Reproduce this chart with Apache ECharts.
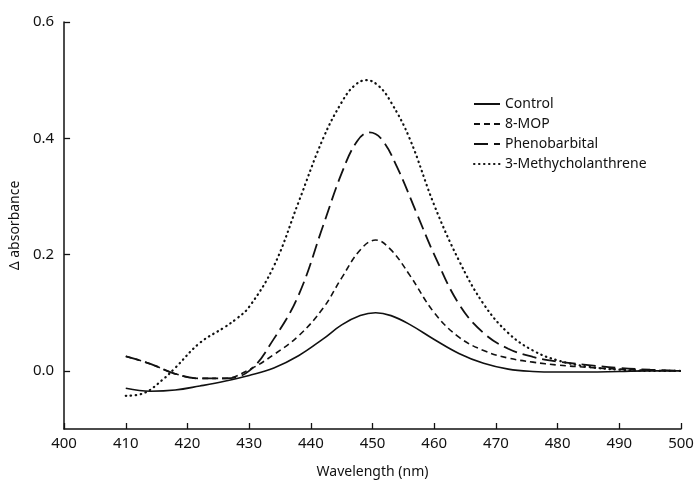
<!DOCTYPE html>
<html><head><meta charset="utf-8">
<script src="https://cdn.jsdelivr.net/npm/echarts@6/dist/echarts.min.js"></script>
<style>html,body{margin:0;padding:0;background:#fff}#c{width:698px;height:484px}</style>
</head><body><div id="c"></div>
<script>
const seriesNames = ['Control', '8-MOP', 'Phenobarbital', '3-Methycholanthrene'];
const xTicks = [400, 410, 420, 430, 440, 450, 460, 470, 480, 490, 500];
const yTicks = [0, 0.2, 0.4, 0.6];

const controlX = [410,414,418,422,426,430,434,438,442,445,448,450.5,453,456,460,464,468,472,476,480,485,490,495,500];
const controlY = [-0.030,-0.035,-0.033,-0.026,-0.018,-0.008,0.005,0.026,0.055,0.079,0.095,0.100,0.095,0.080,0.054,0.030,0.013,0.003,-0.001,-0.002,-0.002,-0.001,0.000,0.000];

const mopX = [410,414,418,422,426,430,434,438,442,445,448,450.5,453,456,460,464,468,472,476,480,485,490,495,500];
const mopY = [0.025,0.012,-0.005,-0.013,-0.013,0.002,0.028,0.060,0.108,0.160,0.208,0.225,0.208,0.165,0.100,0.058,0.035,0.022,0.015,0.010,0.006,0.003,0.001,0.000];

const phenoX = [410,414,418,422,426,430,434,438,442,445,447.5,449.5,451.5,454,457,460,464,468,472,476,480,485,490,495,500];
const phenoY = [0.025,0.012,-0.005,-0.013,-0.013,0.000,0.055,0.130,0.250,0.340,0.395,0.410,0.398,0.350,0.275,0.200,0.115,0.065,0.038,0.024,0.016,0.010,0.005,0.002,0.000];

const mcX = [410,413,416,418,422,426,428,430,434,438,442,445,447,449,451,453,456,460,464,468,472,476,480,485,490,495,500];
const mcY = [-0.043,-0.038,-0.015,0.005,0.048,0.075,0.090,0.110,0.180,0.290,0.400,0.462,0.490,0.500,0.490,0.462,0.400,0.285,0.190,0.115,0.065,0.035,0.018,0.007,0.002,0.000,0.000];

const zip = (xs, ys) => xs.map((x, i) => [x, ys[i]]);
const font = 'Noto Sans';
const lineStyles = [
  {color:'#111', width:1.6, type:'solid'},
  {color:'#111', width:1.6, type:[6,4]},
  {color:'#111', width:1.8, type:[14,6]},
  {color:'#111', width:2.2, type:[0.5,4.5], cap:'round'}
];
const datasets = [zip(controlX,controlY), zip(mopX,mopY), zip(phenoX,phenoY), zip(mcX,mcY)];

const chart = echarts.init(document.getElementById('c'), null, {renderer:'canvas'});
chart.setOption({
  animation:false,
  backgroundColor:'#fff',
  grid:{left:62, right:17, top:22, bottom:42, containLabel:false},
  legend:{
    orient:'vertical', left:468, top:92, itemGap:6, itemWidth:26, itemHeight:14,
    itemStyle:{color:'transparent', borderColor:'transparent', borderWidth:0, opacity:0},
    textStyle:{fontFamily:font, fontSize:14, color:'#111'},
    data:seriesNames
  },
  xAxis:{
    type:'value', min:400, max:500, interval:10,
    name:'Wavelength (nm)', nameLocation:'middle', nameGap:36,
    nameTextStyle:{fontFamily:font, fontSize:14, color:'#111'},
    axisLine:{show:true, onZero:false, lineStyle:{color:'#111', width:1.5}},
    axisTick:{show:true, inside:true, length:6, lineStyle:{color:'#111', width:1.3}},
    axisLabel:{fontFamily:font, fontSize:15, color:'#111', margin:7},
    splitLine:{show:false}
  },
  yAxis:{
    type:'value', min:-0.1, max:0.6,
    name:'\u0394 absorbance', nameLocation:'middle', nameGap:40,
    nameTextStyle:{fontFamily:font, fontSize:14, color:'#111'},
    axisLine:{show:true, onZero:false, lineStyle:{color:'#111', width:1.5}},
    axisTick:{show:true, inside:true, length:6, customValues:yTicks, lineStyle:{color:'#111', width:1.3}},
    axisLabel:{fontFamily:font, fontSize:15, color:'#111', margin:10, customValues:yTicks,
      formatter:v => v.toFixed(1)},
    splitLine:{show:false}
  },
  series: seriesNames.map((n,i) => ({
    name:n, type:'line', data:datasets[i], smooth:0.4, showSymbol:false, symbol:'none',
    lineStyle:lineStyles[i], itemStyle:{color:'#111'}
  }))
});
</script></body></html>
